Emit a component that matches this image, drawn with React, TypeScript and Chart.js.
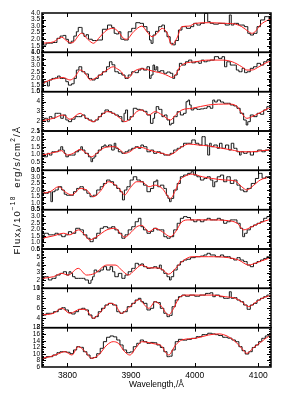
import React, { useEffect, useRef } from 'react';
import { Chart, registerables } from 'chart.js';

Chart.register(...registerables);

// ---- axes ----
const xMin = 3760;
const xMax = 4120;
const xTickValues = [3800, 3900, 4000, 4100];
const panelMin = [1, 1, 1, 0, 0.5, 0.5, 1, 2, 6];
const panelMax = [4, 4, 5, 2.5, 3.5, 3.5, 6, 10, 18];
const panelStep = [0.5, 0.5, 1, 0.5, 0.5, 0.5, 1, 2, 2];
const panelDecimals = [1, 1, 0, 1, 1, 1, 0, 0, 0];
const panelMinor = [5, 5, 5, 5, 5, 5, 5, 4, 4];

// ---- panel 1 ----
const obsWave1 = [3760, 3773, 3781, 3786, 3791, 3796, 3799, 3804, 3808, 3812, 3816, 3818, 3822, 3824, 3828, 3831, 3835, 3843, 3851, 3859, 3867, 3872, 3875, 3878, 3883, 3885, 3893, 3898, 3904, 3911, 3917, 3922, 3928, 3930, 3933, 3936, 3941, 3946, 3951, 3954, 3959, 3964, 3967, 3972, 3977, 3983, 3991, 3996, 4001, 4006, 4012, 4019, 4022, 4027, 4032, 4043, 4053, 4056, 4059, 4064, 4074, 4082, 4085, 4090, 4095, 4101, 4106, 4114, 4120];
const obsFlux1 = [1.55, 1.70, 1.75, 2.07, 2.24, 2.29, 1.99, 1.70, 1.85, 2.24, 2.57, 2.90, 2.90, 2.45, 2.22, 2.35, 2.00, 1.90, 1.94, 2.76, 3.08, 2.90, 2.45, 2.40, 2.57, 2.00, 1.94, 2.57, 2.83, 3.26, 3.21, 2.96, 2.57, 1.94, 1.69, 2.32, 2.60, 2.96, 3.08, 2.57, 2.19, 1.69, 1.57, 1.90, 2.70, 2.96, 2.83, 2.96, 3.21, 3.08, 3.21, 3.97, 3.34, 3.21, 3.15, 3.21, 3.08, 3.85, 3.08, 3.21, 3.08, 2.96, 2.45, 2.32, 2.45, 2.96, 3.47, 3.72, 3.50];
const modWave1 = [3760, 3778, 3791, 3799, 3807, 3822, 3833, 3841, 3849, 3862, 3872, 3880, 3888, 3893, 3904, 3917, 3925, 3933, 3941, 3949, 3957, 3964, 3972, 3980, 3991, 4001, 4022, 4048, 4064, 4074, 4085, 4090, 4095, 4103, 4116, 4120];
const modFlux1 = [1.69, 1.80, 2.15, 1.87, 1.72, 2.45, 1.94, 1.69, 2.07, 2.70, 2.83, 2.57, 2.07, 2.00, 2.57, 3.00, 2.57, 2.19, 2.45, 2.83, 2.45, 1.57, 2.07, 2.96, 3.00, 3.21, 3.26, 3.21, 3.15, 2.96, 2.57, 2.45, 2.57, 3.08, 3.47, 3.52];

// ---- panel 2 ----
const obsWave2 = [3760, 3767, 3770, 3773, 3778, 3783, 3786, 3791, 3796, 3799, 3804, 3809, 3812, 3816, 3820, 3825, 3830, 3836, 3841, 3846, 3851, 3859, 3864, 3868, 3872, 3877, 3883, 3888, 3893, 3898, 3904, 3909, 3914, 3917, 3922, 3928, 3930, 3933, 3936, 3938, 3941, 3943, 3949, 3954, 3959, 3964, 3967, 3970, 3975, 3977, 3983, 3988, 3993, 3998, 4004, 4009, 4012, 4017, 4022, 4027, 4035, 4040, 4046, 4048, 4053, 4059, 4064, 4067, 4072, 4077, 4080, 4085, 4090, 4095, 4101, 4106, 4111, 4116, 4120];
const obsFlux2 = [1.63, 1.76, 1.43, 1.89, 2.01, 2.05, 2.19, 2.01, 2.01, 1.76, 1.50, 1.60, 2.01, 2.65, 2.90, 2.52, 2.35, 2.01, 1.89, 2.01, 2.27, 2.52, 2.90, 3.28, 3.05, 2.52, 2.40, 2.27, 2.01, 2.27, 2.52, 2.45, 2.65, 2.78, 2.65, 2.90, 2.01, 2.27, 3.03, 2.65, 2.90, 2.52, 2.60, 2.40, 2.50, 2.40, 2.01, 2.27, 2.65, 3.16, 3.03, 3.28, 3.41, 3.20, 3.28, 3.16, 3.41, 3.28, 3.35, 3.41, 3.67, 3.54, 3.67, 2.90, 3.28, 3.03, 3.03, 2.65, 2.52, 2.78, 2.45, 2.52, 2.78, 2.90, 3.16, 3.03, 3.28, 3.41, 3.35];
const modWave2 = [3760, 3773, 3783, 3793, 3804, 3812, 3820, 3828, 3836, 3843, 3851, 3862, 3872, 3877, 3885, 3890, 3896, 3904, 3917, 3928, 3938, 3949, 3959, 3964, 3970, 3977, 3985, 4001, 4022, 4043, 4059, 4074, 4082, 4090, 4101, 4116, 4120];
const modFlux2 = [1.63, 1.89, 2.01, 2.08, 1.89, 2.14, 2.65, 2.40, 1.89, 2.00, 2.27, 2.65, 2.90, 2.78, 2.50, 2.14, 2.05, 2.52, 2.75, 2.65, 2.52, 2.40, 2.19, 2.08, 2.27, 2.90, 3.16, 3.28, 3.41, 3.41, 3.28, 2.90, 2.65, 2.65, 2.90, 3.28, 3.32];

// ---- panel 3 ----
const obsWave3 = [3760, 3767, 3770, 3773, 3778, 3783, 3788, 3791, 3796, 3799, 3804, 3809, 3815, 3820, 3825, 3830, 3836, 3841, 3846, 3851, 3856, 3862, 3867, 3872, 3877, 3883, 3888, 3890, 3893, 3896, 3901, 3906, 3912, 3917, 3922, 3928, 3933, 3936, 3938, 3941, 3946, 3951, 3954, 3959, 3962, 3964, 3970, 3975, 3980, 3985, 3988, 3991, 3993, 3996, 4001, 4006, 4012, 4017, 4022, 4027, 4030, 4033, 4038, 4043, 4048, 4053, 4059, 4064, 4069, 4074, 4080, 4082, 4085, 4090, 4095, 4101, 4106, 4111, 4116, 4120];
const obsFlux3 = [2.12, 2.29, 1.95, 2.46, 2.30, 2.80, 2.80, 2.29, 2.63, 2.12, 1.95, 2.20, 2.46, 2.46, 2.63, 2.29, 2.12, 1.95, 2.12, 2.46, 2.80, 3.14, 2.97, 2.80, 2.63, 2.46, 1.95, 2.80, 3.14, 2.12, 2.46, 3.31, 3.20, 3.14, 3.00, 2.63, 1.78, 2.29, 2.80, 3.48, 3.20, 2.46, 2.63, 2.12, 1.61, 1.78, 2.46, 2.97, 2.63, 2.80, 3.98, 4.15, 3.65, 3.14, 3.31, 3.20, 3.25, 3.31, 3.48, 3.31, 4.15, 3.95, 4.15, 3.95, 3.82, 3.82, 3.65, 3.55, 3.31, 2.80, 2.12, 1.61, 1.95, 2.63, 2.46, 2.80, 2.70, 3.14, 3.48, 3.40];
const modWave3 = [3760, 3778, 3793, 3804, 3820, 3830, 3841, 3851, 3862, 3872, 3883, 3890, 3898, 3909, 3917, 3928, 3938, 3949, 3962, 3970, 3980, 3996, 4022, 4053, 4067, 4074, 4082, 4090, 4101, 4116, 4120];
const modFlux3 = [2.05, 2.29, 2.63, 2.19, 2.80, 2.29, 1.95, 2.46, 2.97, 2.80, 2.29, 1.95, 2.20, 2.97, 3.14, 2.63, 2.97, 2.63, 2.12, 2.63, 3.14, 3.31, 3.65, 3.74, 3.48, 2.80, 2.29, 2.46, 2.80, 3.31, 3.38];

// ---- panel 4 ----
const obsWave4 = [3760, 3767, 3770, 3773, 3778, 3783, 3788, 3791, 3794, 3796, 3799, 3804, 3809, 3815, 3820, 3822, 3825, 3830, 3836, 3838, 3841, 3843, 3846, 3851, 3856, 3859, 3862, 3867, 3872, 3875, 3877, 3883, 3888, 3893, 3898, 3904, 3909, 3914, 3917, 3922, 3928, 3933, 3938, 3943, 3949, 3954, 3959, 3964, 3970, 3975, 3980, 3985, 3993, 3998, 4004, 4009, 4014, 4019, 4022, 4025, 4027, 4033, 4038, 4040, 4046, 4051, 4056, 4059, 4064, 4069, 4072, 4074, 4080, 4085, 4090, 4095, 4103, 4108, 4114, 4120];
const obsFlux4 = [1.08, 0.86, 1.08, 0.97, 1.18, 1.18, 1.29, 1.50, 1.29, 1.08, 0.86, 0.97, 0.97, 1.18, 1.29, 1.50, 1.29, 1.08, 0.86, 0.55, 0.76, 0.86, 1.08, 1.29, 1.50, 1.61, 1.50, 1.61, 1.29, 1.72, 1.40, 1.18, 1.08, 1.18, 1.29, 1.40, 1.50, 1.40, 1.61, 1.50, 1.18, 1.29, 1.08, 1.18, 1.08, 0.97, 0.97, 1.08, 1.29, 1.40, 1.50, 1.72, 1.72, 1.93, 1.72, 1.61, 2.14, 1.61, 0.97, 1.72, 1.50, 1.61, 1.40, 1.72, 1.40, 1.61, 1.29, 1.72, 1.40, 1.18, 0.97, 1.18, 1.08, 1.18, 0.97, 1.18, 1.29, 1.18, 1.29, 1.25];
const modWave4 = [3760, 3773, 3783, 3791, 3799, 3809, 3820, 3830, 3838, 3846, 3856, 3867, 3875, 3883, 3890, 3898, 3909, 3917, 3928, 3938, 3949, 3959, 3970, 3980, 3991, 4006, 4022, 4043, 4059, 4074, 4090, 4106, 4120];
const modFlux4 = [0.97, 1.08, 1.18, 1.25, 0.97, 1.08, 1.33, 1.08, 0.86, 1.08, 1.40, 1.50, 1.50, 1.29, 1.08, 1.18, 1.46, 1.45, 1.29, 1.18, 1.08, 0.97, 1.18, 1.50, 1.67, 1.61, 1.55, 1.40, 1.29, 1.18, 1.18, 1.25, 1.30];

// ---- panel 5 ----
const obsWave5 = [3760, 3767, 3773, 3775, 3778, 3783, 3788, 3794, 3796, 3801, 3807, 3812, 3817, 3822, 3828, 3833, 3838, 3843, 3849, 3854, 3859, 3864, 3870, 3875, 3880, 3885, 3888, 3891, 3896, 3901, 3906, 3912, 3917, 3922, 3928, 3933, 3938, 3941, 3943, 3949, 3954, 3957, 3959, 3962, 3964, 3970, 3975, 3980, 3985, 3993, 3996, 4001, 4006, 4012, 4017, 4022, 4027, 4030, 4033, 4038, 4043, 4048, 4053, 4059, 4064, 4069, 4074, 4080, 4085, 4093, 4098, 4103, 4109, 4114, 4120];
const obsFlux5 = [1.87, 1.75, 1.87, 1.11, 1.87, 2.00, 2.25, 2.00, 1.68, 1.60, 1.60, 1.87, 2.12, 2.25, 2.00, 1.75, 1.49, 1.60, 2.00, 2.25, 2.50, 2.76, 2.63, 2.37, 2.12, 1.87, 1.24, 2.00, 2.25, 2.76, 3.01, 2.76, 2.63, 2.37, 1.87, 2.12, 2.63, 2.76, 2.25, 2.37, 2.12, 1.60, 1.36, 1.11, 1.36, 2.00, 2.50, 3.01, 3.14, 3.27, 3.39, 3.14, 3.01, 2.76, 2.88, 3.01, 2.76, 2.25, 2.63, 3.01, 3.14, 2.63, 3.01, 2.50, 2.76, 2.37, 2.00, 1.87, 2.12, 2.50, 2.88, 3.27, 2.90, 3.01, 2.95];
const modWave5 = [3760, 3773, 3786, 3796, 3807, 3820, 3830, 3841, 3851, 3864, 3872, 3883, 3890, 3898, 3909, 3917, 3928, 3938, 3949, 3962, 3970, 3977, 3985, 3996, 4012, 4027, 4048, 4064, 4074, 4082, 4093, 4103, 4116, 4120];
const modFlux5 = [1.75, 1.87, 2.25, 1.87, 1.62, 2.12, 2.00, 1.49, 1.87, 2.63, 2.50, 2.00, 1.62, 2.12, 2.63, 2.63, 2.25, 2.37, 2.12, 1.36, 2.00, 2.76, 3.06, 3.21, 3.01, 2.88, 2.76, 2.68, 2.25, 2.00, 2.37, 2.76, 2.96, 2.98];

// ---- panel 6 ----
const obsWave6 = [3760, 3767, 3773, 3778, 3783, 3788, 3794, 3799, 3804, 3809, 3817, 3822, 3828, 3833, 3838, 3843, 3849, 3854, 3859, 3867, 3872, 3877, 3883, 3888, 3893, 3898, 3904, 3909, 3914, 3917, 3922, 3928, 3933, 3938, 3943, 3949, 3954, 3959, 3964, 3970, 3975, 3980, 3985, 3991, 3996, 4001, 4006, 4012, 4017, 4022, 4027, 4033, 4038, 4043, 4048, 4053, 4059, 4064, 4069, 4074, 4077, 4080, 4085, 4090, 4095, 4101, 4106, 4111, 4116, 4120];
const obsFlux6 = [1.32, 1.70, 1.58, 1.58, 1.70, 1.58, 1.44, 1.58, 1.82, 1.70, 2.08, 1.96, 1.58, 1.32, 1.06, 1.32, 1.70, 2.08, 2.20, 2.10, 2.20, 1.96, 1.70, 1.32, 1.58, 1.96, 2.20, 2.58, 2.84, 2.20, 1.96, 1.70, 1.85, 2.08, 1.96, 1.96, 1.44, 1.32, 1.44, 1.96, 2.46, 2.84, 2.97, 2.90, 2.72, 2.58, 2.72, 2.58, 2.72, 2.84, 2.72, 2.72, 2.84, 2.72, 2.46, 2.58, 2.72, 2.72, 2.46, 2.08, 1.44, 1.70, 1.96, 2.20, 2.33, 2.46, 2.58, 2.84, 2.97, 2.90];
const modWave6 = [3760, 3778, 3794, 3804, 3817, 3825, 3835, 3846, 3862, 3875, 3885, 3890, 3901, 3909, 3917, 3928, 3938, 3949, 3962, 3970, 3980, 3991, 4022, 4053, 4067, 4077, 4090, 4101, 4116, 4120];
const modFlux6 = [1.32, 1.50, 1.70, 1.58, 1.96, 1.70, 1.20, 1.44, 1.96, 2.08, 1.58, 1.40, 1.82, 2.20, 2.30, 1.82, 2.08, 1.82, 1.44, 1.82, 2.58, 2.72, 2.72, 2.66, 2.46, 1.96, 2.20, 2.46, 2.72, 2.75];

// ---- panel 7 ----
const obsWave7 = [3760, 3767, 3773, 3778, 3786, 3791, 3796, 3801, 3804, 3807, 3809, 3815, 3820, 3825, 3830, 3836, 3838, 3841, 3843, 3849, 3854, 3859, 3864, 3870, 3872, 3877, 3883, 3888, 3893, 3898, 3904, 3909, 3914, 3917, 3922, 3928, 3933, 3938, 3943, 3946, 3949, 3954, 3959, 3962, 3964, 3970, 3975, 3980, 3985, 3991, 3996, 4006, 4012, 4017, 4022, 4027, 4038, 4043, 4048, 4053, 4059, 4064, 4069, 4074, 4080, 4085, 4090, 4095, 4101, 4106, 4111, 4116, 4120];
const obsFlux7 = [2.27, 2.48, 2.06, 2.27, 2.69, 2.90, 3.11, 2.69, 3.11, 2.90, 2.48, 2.27, 2.27, 2.27, 2.06, 1.64, 2.06, 2.48, 3.33, 3.11, 3.33, 3.75, 3.33, 3.75, 3.11, 2.48, 2.90, 2.27, 2.69, 3.11, 3.54, 4.18, 3.96, 4.10, 3.75, 3.54, 3.60, 3.75, 3.54, 3.96, 3.33, 2.90, 2.48, 2.06, 2.48, 3.33, 3.96, 4.39, 4.60, 4.70, 4.90, 5.02, 5.10, 5.24, 5.45, 5.24, 5.02, 5.24, 5.02, 5.02, 4.80, 4.60, 4.90, 4.60, 4.40, 3.96, 3.75, 4.18, 4.40, 4.60, 4.80, 5.02, 4.95];
const modWave7 = [3760, 3778, 3791, 3801, 3817, 3830, 3843, 3862, 3875, 3888, 3896, 3904, 3917, 3928, 3941, 3949, 3959, 3970, 3980, 3996, 4022, 4053, 4069, 4085, 4095, 4116, 4120];
const modFlux7 = [2.27, 2.48, 2.90, 2.69, 3.54, 2.69, 2.90, 3.96, 3.96, 3.11, 2.69, 3.20, 3.96, 3.60, 3.60, 3.40, 2.80, 3.54, 4.39, 5.02, 5.02, 4.90, 4.60, 3.96, 4.18, 4.80, 4.85];

// ---- panel 8 ----
const obsWave8 = [3760, 3773, 3783, 3788, 3794, 3799, 3804, 3809, 3815, 3820, 3825, 3830, 3836, 3841, 3846, 3851, 3856, 3862, 3867, 3875, 3880, 3885, 3890, 3898, 3904, 3909, 3914, 3917, 3922, 3928, 3933, 3938, 3943, 3949, 3954, 3959, 3962, 3967, 3972, 3977, 3983, 3988, 3996, 4004, 4012, 4022, 4027, 4030, 4035, 4043, 4048, 4053, 4056, 4059, 4064, 4069, 4074, 4080, 4085, 4090, 4095, 4101, 4106, 4111, 4116, 4120];
const obsFlux8 = [4.58, 4.92, 5.25, 5.73, 6.06, 5.60, 5.05, 4.78, 5.25, 5.73, 5.94, 5.60, 4.58, 3.91, 4.24, 5.25, 5.94, 6.61, 6.95, 6.61, 5.25, 4.92, 5.25, 6.27, 6.95, 7.62, 7.97, 7.28, 6.95, 5.60, 5.94, 7.28, 7.10, 5.94, 4.92, 4.24, 4.50, 6.27, 7.62, 8.30, 8.63, 8.40, 8.63, 8.40, 8.63, 8.97, 9.10, 8.30, 8.63, 8.30, 7.97, 7.97, 9.31, 7.97, 8.10, 7.62, 7.28, 6.61, 5.73, 6.61, 6.95, 7.62, 7.97, 8.30, 8.63, 8.55];
const modWave8 = [3760, 3778, 3791, 3804, 3820, 3828, 3841, 3851, 3867, 3875, 3885, 3898, 3914, 3917, 3928, 3938, 3946, 3959, 3967, 3975, 3985, 4006, 4027, 4048, 4064, 4074, 4085, 4095, 4106, 4116, 4120];
const modFlux8 = [4.58, 4.92, 5.94, 4.92, 5.73, 5.73, 3.91, 5.05, 6.95, 6.61, 4.92, 6.27, 7.75, 7.28, 5.94, 7.28, 6.61, 4.58, 5.94, 7.97, 8.63, 8.63, 8.63, 8.30, 7.97, 7.28, 6.27, 7.08, 7.97, 8.40, 8.45];

// ---- panel 9 ----
const obsWave9 = [3760, 3773, 3781, 3786, 3791, 3796, 3801, 3807, 3812, 3817, 3822, 3828, 3833, 3838, 3843, 3849, 3854, 3859, 3864, 3870, 3875, 3880, 3885, 3890, 3896, 3901, 3906, 3912, 3917, 3922, 3928, 3933, 3938, 3943, 3949, 3954, 3959, 3962, 3967, 3972, 3977, 3985, 3991, 3999, 4006, 4017, 4024, 4030, 4035, 4040, 4048, 4056, 4061, 4067, 4072, 4077, 4082, 4088, 4093, 4098, 4103, 4108, 4114, 4120];
const obsFlux9 = [8.66, 9.15, 9.66, 10.37, 10.67, 10.67, 10.50, 10.06, 11.20, 12.20, 12.00, 10.67, 9.66, 8.66, 8.90, 10.06, 11.70, 13.73, 15.07, 15.47, 15.20, 14.24, 12.72, 11.20, 10.37, 10.60, 12.20, 13.23, 14.24, 13.73, 13.23, 13.50, 13.40, 12.72, 11.96, 10.67, 9.15, 9.30, 11.20, 13.73, 14.44, 14.20, 14.44, 14.75, 15.26, 15.87, 16.30, 16.10, 15.87, 15.60, 15.07, 14.80, 14.24, 13.73, 12.20, 10.98, 9.96, 10.67, 11.96, 12.72, 13.73, 14.75, 15.47, 15.87];
const modWave9 = [3760, 3773, 3786, 3796, 3807, 3817, 3828, 3838, 3849, 3862, 3872, 3880, 3890, 3898, 3909, 3917, 3928, 3938, 3946, 3959, 3970, 3980, 4001, 4022, 4038, 4053, 4064, 4074, 4082, 4093, 4103, 4116, 4120];
const modFlux9 = [8.66, 9.15, 10.06, 10.67, 9.66, 12.20, 10.67, 8.66, 9.66, 12.72, 13.73, 13.23, 10.67, 9.66, 12.20, 13.73, 13.43, 13.02, 12.72, 9.66, 12.72, 14.24, 14.75, 15.77, 16.10, 15.26, 13.73, 11.70, 10.16, 11.96, 13.43, 15.26, 15.50];

const obsWaves = [obsWave1, obsWave2, obsWave3, obsWave4, obsWave5, obsWave6, obsWave7, obsWave8, obsWave9];
const obsFluxes = [obsFlux1, obsFlux2, obsFlux3, obsFlux4, obsFlux5, obsFlux6, obsFlux7, obsFlux8, obsFlux9];
const modWaves = [modWave1, modWave2, modWave3, modWave4, modWave5, modWave6, modWave7, modWave8, modWave9];
const modFluxes = [modFlux1, modFlux2, modFlux3, modFlux4, modFlux5, modFlux6, modFlux7, modFlux8, modFlux9];

const FONT = '"Liberation Sans", "DejaVu Sans", sans-serif';

const framePlugin = {
  id: 'panelFrames',
  afterDatasetsDraw(chart: any) {
    const { ctx, chartArea } = chart;
    const xs = chart.scales.x;
    ctx.save();
    ctx.strokeStyle = '#000';
    for (let i = 0; i < 9; i++) {
      const s = chart.scales['y' + (i + 1)];
      const top = s.getPixelForValue(panelMax[i]);
      const bottom = s.getPixelForValue(panelMin[i]);
      ctx.lineWidth = 1.5;
      ctx.strokeRect(chartArea.left, top, chartArea.right - chartArea.left, bottom - top);
      ctx.lineWidth = 1;
      ctx.beginPath();
      const minorStep = panelStep[i] / panelMinor[i];
      const n = Math.round((panelMax[i] - panelMin[i]) / minorStep);
      for (let k = 1; k < n; k++) {
        const v = panelMin[i] + k * minorStep;
        const y = Math.round(s.getPixelForValue(v)) + 0.5;
        const len = k % panelMinor[i] === 0 ? 4 : 2;
        ctx.moveTo(chartArea.left, y);
        ctx.lineTo(chartArea.left + len, y);
        ctx.moveTo(chartArea.right, y);
        ctx.lineTo(chartArea.right - len, y);
      }
      for (const v of xTickValues) {
        const x = Math.round(xs.getPixelForValue(v)) + 0.5;
        ctx.moveTo(x, top);
        ctx.lineTo(x, top + 4);
        ctx.moveTo(x, bottom);
        ctx.lineTo(x, bottom - 4);
      }
      ctx.stroke();
    }
    ctx.restore();
  },
  afterDraw(chart: any) {
    const { ctx, chartArea } = chart;
    const parts = [
      { t: 'Flux', size: 9.5, dy: 0 },
      { t: 'λ', size: 7, dy: 2.5 },
      { t: '/10', size: 9.5, dy: 0 },
      { t: '−18', size: 6.5, dy: -3.5 },
      { t: '  erg/s/cm', size: 9.5, dy: 0 },
      { t: '2', size: 6.5, dy: -3.5 },
      { t: '/Å', size: 9.5, dy: 0 },
    ];
    ctx.save();
    (ctx as any).letterSpacing = '1.2px';
    let total = 0;
    for (const p of parts) {
      ctx.font = p.size + 'px ' + FONT;
      total += ctx.measureText(p.t).width;
    }
    ctx.translate(17, (chartArea.top + chartArea.bottom) / 2);
    ctx.rotate(-Math.PI / 2);
    ctx.fillStyle = '#000';
    ctx.textBaseline = 'middle';
    let x = -total / 2;
    for (const p of parts) {
      ctx.font = p.size + 'px ' + FONT;
      ctx.fillText(p.t, x, p.dy);
      x += ctx.measureText(p.t).width;
    }
    ctx.restore();
  },
};

export default function App() {
  const canvasRef = useRef<HTMLCanvasElement | null>(null);

  useEffect(() => {
    document.body.style.margin = '0';
    const canvas = canvasRef.current;
    if (!canvas) return;

    const datasets: any[] = [];
    const scales: any = {
      x: {
        type: 'linear',
        position: 'bottom',
        min: xMin,
        max: xMax,
        afterBuildTicks: (s: any) => {
          s.ticks = xTickValues.map((v) => ({ value: v }));
        },
        afterFit: (s: any) => {
          s.height = 27;
        },
        grid: { display: false, drawTicks: false },
        border: { display: false },
        ticks: {
          autoSkip: false,
          maxRotation: 0,
          padding: 4,
          color: '#000',
          font: { size: 8.5, family: FONT },
          callback: (v: any) => String(v),
        },
        title: {
          display: true,
          text: 'Wavelength,/Å',
          color: '#000',
          font: { size: 8.5, family: FONT },
          padding: { top: 0, bottom: 4 },
        },
      },
    };

    for (let i = 0; i < 9; i++) {
      const id = 'y' + (i + 1);
      datasets.push({
        label: 'model ' + (i + 1),
        data: modWaves[i].map((w, j) => ({ x: w, y: modFluxes[i][j] })),
        yAxisID: id,
        borderColor: '#ff1e1e',
        borderWidth: 1,
        pointRadius: 0,
        cubicInterpolationMode: 'monotone',
        fill: false,
        order: 0,
      });
      datasets.push({
        label: 'spectrum ' + (i + 1),
        data: obsWaves[i].map((w, j) => ({ x: w, y: obsFluxes[i][j] })),
        yAxisID: id,
        borderColor: '#151515',
        borderWidth: 1,
        pointRadius: 0,
        stepped: 'middle',
        fill: false,
        order: 1,
      });
      const dec = panelDecimals[i];
      scales[id] = {
        type: 'linear',
        position: 'left',
        stack: 'panels',
        stackWeight: 1,
        weight: 20 - i,
        min: panelMin[i],
        max: panelMax[i],
        afterBuildTicks: (s: any) => {
          const t: any[] = [];
          const n = Math.round((panelMax[i] - panelMin[i]) / panelStep[i]);
          for (let k = 0; k <= n; k++) t.push({ value: panelMin[i] + k * panelStep[i] });
          s.ticks = t;
        },
        afterFit: (s: any) => {
          s.width = 42;
        },
        grid: { display: false, drawTicks: false },
        border: { display: false },
        ticks: {
          autoSkip: false,
          padding: 2,
          color: '#000',
          font: { size: 6.5, family: FONT },
          callback: (v: any) => Number(v).toFixed(dec),
        },
      };
    }

    const chart = new Chart(canvas, {
      type: 'line',
      data: { datasets },
      options: {
        animation: false,
        responsive: false,
        devicePixelRatio: 1,
        layout: { padding: { left: 0, right: 13, top: 13, bottom: 0 } },
        plugins: {
          legend: { display: false },
          tooltip: { enabled: false },
        },
        scales,
      } as any,
      plugins: [framePlugin],
    });

    return () => chart.destroy();
  }, []);

  return (
    <div style={{ width: 284, height: 394, background: '#fff' }}>
      <canvas ref={canvasRef} width={284} height={394} style={{ display: 'block' }} />
    </div>
  );
}
